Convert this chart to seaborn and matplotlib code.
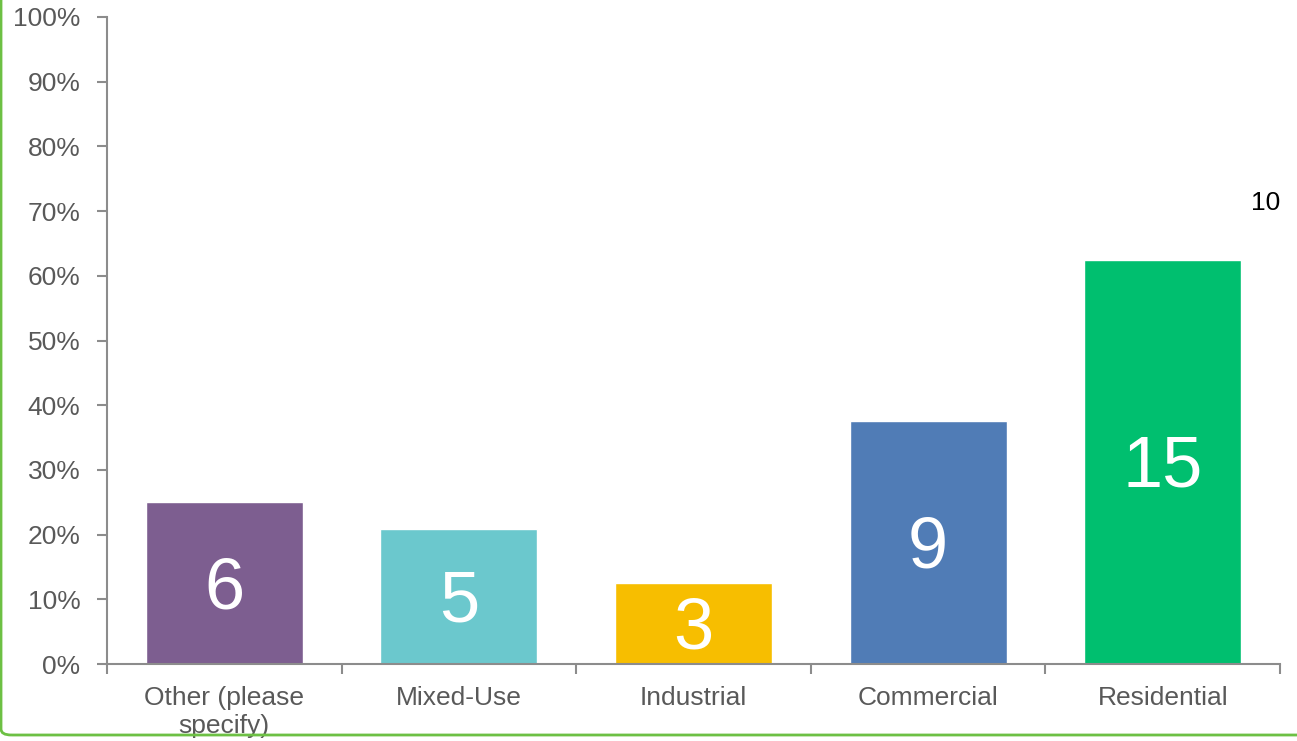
import matplotlib
matplotlib.use("Agg")
import matplotlib.pyplot as plt
from matplotlib.patches import FancyBboxPatch
from matplotlib.ticker import PercentFormatter, FixedLocator
import seaborn as sns
import pandas as pd

categories = ["Other (please\nspecify)", "Mixed-Use", "Industrial", "Commercial", "Residential"]
counts = [6, 5, 3, 9, 15]
respondents = 24
colors = ["#7D5E90", "#6BC8CD", "#F7BE00", "#507CB6", "#00BF6F"]
side_note = "10"

shares = [c / respondents for c in counts]
df = pd.DataFrame({"category": categories, "share": shares, "count": counts})

sns.set_theme(style="white")
plt.rcParams["font.family"] = ["Liberation Sans", "DejaVu Sans"]

W, H = 1297, 741
fig = plt.figure(figsize=(W / 100, H / 100), dpi=100)
ax = fig.add_axes([107 / W, 1 - 664 / H, (1280 - 107) / W, (664 - 17) / H])

sns.barplot(data=df, x="category", y="share", hue="category",
            palette=colors, legend=False, width=0.67, saturation=1, ax=ax)

ax.set_xlim(-0.5, len(categories) - 0.5)
ax.set_ylim(0, 1)
ax.yaxis.set_major_locator(FixedLocator([i / 10 for i in range(11)]))
ax.yaxis.set_major_formatter(PercentFormatter(1.0, decimals=0))
ax.set_xlabel("")
ax.set_ylabel("")

axis_gray = "#8C8C8C"
text_gray = "#595959"
for side in ["top", "right"]:
    ax.spines[side].set_visible(False)
for side in ["left", "bottom"]:
    ax.spines[side].set_color(axis_gray)
    ax.spines[side].set_linewidth(1.5)

ax.tick_params(axis="y", which="major", left=True, length=7, width=1.5,
               color=axis_gray, labelsize=19, labelcolor=text_gray, pad=12)
ax.tick_params(axis="x", which="major", bottom=False, labelsize=19,
               labelcolor=text_gray, pad=10)
ax.xaxis.set_minor_locator(FixedLocator([i - 0.5 for i in range(len(categories) + 1)]))
ax.tick_params(axis="x", which="minor", bottom=True, length=7, width=1.5,
               color=axis_gray)
for lbl in ax.get_xticklabels():
    lbl.set_linespacing(1.2)

# count labels inside each bar
for i, (s, c) in enumerate(zip(shares, counts)):
    ax.text(i, s / 2 - 0.01, str(c), ha="center", va="center",
            fontsize=52, color="white")

ax.text(4.44, 0.712, side_note, ha="center", va="center", fontsize=19, color="black")

border = FancyBboxPatch((1 / W, 6 / H), 1.2, 1.2,
                        boxstyle="round,pad=0,rounding_size=0.008",
                        transform=fig.transFigure, fill=False,
                        edgecolor="#6DC044", linewidth=2, clip_on=False)
fig.patches.append(border)

fig.savefig("out.png", dpi=100)
